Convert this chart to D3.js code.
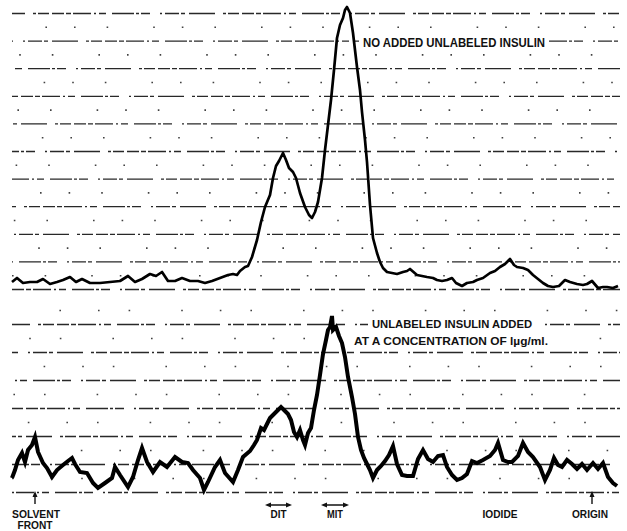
<!DOCTYPE html>
<html><head><meta charset="utf-8">
<script src="https://cdn.jsdelivr.net/npm/d3@7"></script>
<style>html,body{margin:0;padding:0;background:#fff;}svg{display:block;}</style>
</head><body>
<script>
// Scan position (arbitrary units, solvent front at left, origin at right)
const topX = [0,5,11,18,25,31,38,45,51,58,64,70,78,88,98,108,116,123,130,138,144,150,156,163,170,178,186,193,200,208,216,221,225,228,233,236,240,245,249,253,258,261,264,267,271,274,277,281,284,288,293,297,300,303,306,310,313,316,319,322,325,328,331,333,335,338,341,343,345,348,350,353,355,358,361,365,368,371,375,380,385,391,395,398,405,410,415,421,425,430,435,440,444,448,450,455,461,465,471,478,483,488,493,498,502,505,511,516,521,526,531,536,541,547,553,558,565,571,575,580,586,591,595,601,606];
// Radioactivity, no added unlabeled insulin (relative units)
const topY = [7,11,6,7,7,10,5,7,9,12,7,10,6,6,7,8,13,7,10,15,13,17,8,8,11,8,8,6,8,11,14,15,14,18,22,23,32,49,67,82,94,111,123,128,136,129,121,117,111,96,82,74,71,77,87,111,139,164,189,219,251,264,271,279,282,276,256,239,222,199,177,149,127,84,51,36,27,21,17,16,15,17,18,20,14,13,12,11,9,8,9,11,6,4,3,6,7,9,11,16,18,22,25,30,24,22,21,19,14,10,6,3,2,3,9,7,5,4,5,8,1,2,2,1,3];

const botX = [0,3,6,10,13,16,20,23,26,31,35,40,45,51,56,60,63,68,75,81,86,93,100,103,108,116,121,126,130,135,141,148,155,163,170,176,181,188,192,196,203,208,213,221,226,231,238,242,245,249,252,255,258,262,265,269,272,276,279,282,285,288,291,293,296,299,302,305,308,311,314,316,318,320,321,324,327,330,333,336,340,343,346,349,352,355,358,361,365,369,373,377,381,385,390,395,401,406,411,416,421,426,431,435,440,445,450,455,460,465,471,478,483,486,491,496,500,506,511,516,521,528,533,538,542,546,550,555,560,565,570,575,581,586,591,596,601,605];
// Radioactivity, unlabeled insulin added at 1 µg/ml (relative units)
const botY = [14,22,32,39,30,42,47,55,40,29,24,15,22,27,31,34,28,20,19,9,4,9,14,25,17,5,15,32,44,30,20,30,25,35,30,29,22,14,2,10,25,32,19,10,22,35,41,47,52,64,62,68,74,78,81,85,82,78,72,60,55,62,52,47,59,64,82,97,117,138,152,162,165,176,162,165,156,149,135,115,95,78,55,42,34,28,22,14,22,26,31,37,46,28,17,16,16,33,42,33,30,36,37,25,17,12,14,18,31,29,32,36,42,49,32,30,30,36,49,40,35,25,12,22,34,27,25,32,28,23,28,22,29,23,29,15,9,6];

const topGrid = d3.range(11).map(i => i * 27.6);
const botGrid = [0, 28, 56, 84, 112, 140, 168];
const minorTop = d3.range(10).map(i => i * 27.6 + 13.8);
const minorBot = [14, 42, 70, 98, 126, 154, 182];

const topLabel = "NO ADDED UNLABELED INSULIN";
const botLabel1 = "UNLABELED INSULIN ADDED";
const botLabel2 = "AT A CONCENTRATION OF l\u00b5g/ml.";
// markers along the scan
const singleArrows = [{name:"SOLVENT FRONT", x:23}, {name:"ORIGIN", x:580}];
const rangeArrows = [{name:"DIT", x0:253, x1:280}, {name:"MIT", x0:309, x1:337}];
const plainLabels = [{name:"IODIDE", x:488}];

const W = 627, H = 531;
const svg = d3.select("body").append("svg").attr("width", W).attr("height", H)
  .style("font-family", "'Liberation Sans', Arial, sans-serif");

const x = d3.scaleLinear().domain([0, 608]).range([12, 620]);
const yT = d3.scaleLinear().domain([0, 276]).range([289, 13]);
const yB = d3.scaleLinear().domain([0, 196]).range([492, 296]);

const dashes = "12,2,5,2,18,3,2,3,7,6,22,2,3,2,9,10,2,3,14,2,4,4,26,8,3,2,11,3";
function grid(scale, vals, cls, dash, w, op) {
  const g = svg.append("g").attr("transform", `translate(${x(0)},0)`)
    .call(d3.axisLeft(scale).tickValues(vals).tickSize(-(x(608) - x(0))).tickFormat(""));
  g.select(".domain").remove();
  g.selectAll(".tick line").attr("stroke", "#111").attr("stroke-width", w)
    .attr("opacity", op)
    .attr("stroke-dasharray", dash)
    .attr("stroke-dashoffset", (d, i) => i * 53 + (cls === "b" ? 17 : 0));
}
grid(yT, topGrid, "t", dashes, 1.3, 0.9);
grid(yB, botGrid, "b", dashes, 1.3, 0.9);
grid(yT, minorTop, "mt", "1.6,31,1.6,45,1.6,27", 1.6, 0.8);
grid(yB, minorBot, "mb", "1.6,37,1.6,29,1.6,51", 1.6, 0.8);

// text with white background
function label(txt, xpx, ypx, len, size) {
  svg.append("rect").attr("x", xpx - 4).attr("y", ypx - size * 0.85).attr("width", len + 8).attr("height", size * 1.05).attr("fill", "#fff");
  svg.append("text").attr("x", xpx).attr("y", ypx).attr("font-size", size).attr("font-weight", "bold")
    .attr("textLength", len).attr("lengthAdjust", "spacingAndGlyphs").attr("fill", "#111").text(txt);
}
label(topLabel, x(351), yT(242), 182, 12.5);
label(botLabel1, x(360), yB(164), 160, 11);
label(botLabel2, x(342), yB(147), 194, 11);

const topLine = d3.line().x(d => x(d[0])).y(d => yT(d[1]));
const botLine = d3.line().x(d => x(d[0])).y(d => yB(d[1]));
svg.append("path").datum(d3.zip(topX, topY)).attr("d", topLine)
  .attr("fill", "none").attr("stroke", "#000").attr("stroke-width", 2.7).attr("stroke-linejoin", "round");
svg.append("path").datum(d3.zip(botX, botY)).attr("d", botLine)
  .attr("fill", "none").attr("stroke", "#000").attr("stroke-width", 4).attr("stroke-linejoin", "miter");

// annotations
const ann = svg.append("g").attr("fill", "#111").attr("stroke", "#111");
singleArrows.forEach(a => {
  const cx = x(a.x);
  ann.append("line").attr("x1", cx).attr("x2", cx).attr("y1", 504).attr("y2", 494).attr("stroke-width", 1.4);
  ann.append("path").attr("d", `M${cx - 2.5},${497} L${cx},${491} L${cx + 2.5},${497} Z`).attr("stroke", "none");
});
rangeArrows.forEach(a => {
  const x0 = x(a.x0), x1 = x(a.x1);
  ann.append("line").attr("x1", x0 + 3).attr("x2", x1 - 3).attr("y1", 505).attr("y2", 505).attr("stroke-width", 1.5);
  ann.append("path").attr("d", `M${x0},505 L${x0 + 6},502.5 L${x0 + 6},507.5 Z`).attr("stroke", "none");
  ann.append("path").attr("d", `M${x1},505 L${x1 - 6},502.5 L${x1 - 6},507.5 Z`).attr("stroke", "none");
  svg.append("text").attr("x", (x0 + x1) / 2).attr("y", 518).attr("text-anchor", "middle")
    .attr("font-size", 11).attr("font-weight", "bold").attr("fill", "#111")
    .attr("textLength", 16).attr("lengthAdjust", "spacingAndGlyphs").text(a.name);
});
function bottomText(txt, cx, y, len) {
  svg.append("text").attr("x", cx).attr("y", y).attr("text-anchor", "middle")
    .attr("font-size", 11).attr("font-weight", "bold").attr("fill", "#111")
    .attr("textLength", len).attr("lengthAdjust", "spacingAndGlyphs").text(txt);
}
bottomText("SOLVENT", x(24), 518, 48);
bottomText("FRONT", x(23), 529, 35);
bottomText("ORIGIN", x(578), 518, 36);
plainLabels.forEach(l => bottomText(l.name, x(l.x), 518, 35));
</script>
</body></html>
